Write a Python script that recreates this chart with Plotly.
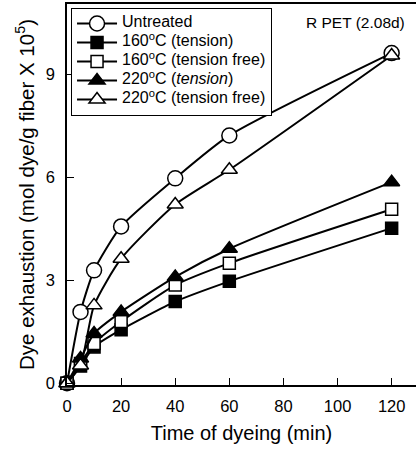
import plotly.graph_objects as go

time_min = [0, 5, 10, 20, 40, 60, 120]
untreated = [0, 2.08, 3.29, 4.57, 5.97, 7.22, 9.62]
t160_tension = [0, 0.5, 1.06, 1.56, 2.38, 2.97, 4.52]
t160_free = [0, 0.58, 1.16, 1.8, 2.86, 3.5, 5.07]
t220_tension = [0, 0.72, 1.45, 2.08, 3.1, 3.92, 5.86]
t220_free = [0, 0.52, 2.27, 3.63, 5.21, 6.22, 9.55]

FONT = "Liberation Sans, Arial, sans-serif"


def lg(s):
    return '<span style="font-size:16px">' + s + '</span>'


series = [
    (lg("Untreated"), untreated, "circle", "white", 15),
    (lg("160<sup>o</sup>C (tension)"), t160_tension, "square", "black", 12),
    (lg("160<sup>o</sup>C (tension free)"), t160_free, "square", "white", 12),
    (lg("220<sup>o</sup>C (<i>tension</i>)"), t220_tension, "triangle-up", "black", 14),
    (lg("220<sup>o</sup>C (tension free)"), t220_free, "triangle-up", "white", 14),
]

fig = go.Figure()
for name, vals, sym, fill, size in series:
    fig.add_trace(go.Scatter(
        x=time_min, y=vals, name=name, mode="lines+markers",
        line=dict(color="black", width=2, shape="spline", smoothing=0.6),
        marker=dict(symbol=sym, size=size, color=fill, line=dict(color="black", width=1.5)),
        cliponaxis=False,
    ))

fig.update_layout(
    width=416, height=449,
    margin=dict(l=67, r=0, t=4, b=64),
    paper_bgcolor="white", plot_bgcolor="white",
    font=dict(family=FONT, color="black", size=15),
    showlegend=True,
    legend=dict(
        x=0.011, y=0.99, xanchor="left", yanchor="top",
        bordercolor="black", borderwidth=1.2, bgcolor="white",
        font=dict(size=10, family=FONT), itemwidth=40,
        tracegroupgap=0,
    ),
    xaxis=dict(
        range=[0, 129], tickvals=[0, 20, 40, 60, 80, 100, 120],
        ticks="inside", ticklen=7, tickwidth=1.2, tickcolor="black",
        showline=True, linecolor="black", linewidth=1.5, mirror=True,
        showgrid=False, zeroline=False, automargin=False,
        tickfont=dict(size=16.5), ticklabelstandoff=5,
        title=dict(text="Time of dyeing (min)", font=dict(size=20), standoff=12),
    ),
    yaxis=dict(
        range=[-0.05, 11.05], tickvals=[0, 3, 6, 9],
        ticks="inside", ticklen=7, tickwidth=1.2, tickcolor="black",
        showline=True, linecolor="black", linewidth=1.5,
        showgrid=False, zeroline=False, automargin=False,
        tickfont=dict(size=16.5), ticklabelstandoff=7,
        title=dict(text="Dye exhaustion (mol dye/g fiber X 10<sup>5</sup>)", font=dict(size=20.5), standoff=6),
    ),
    annotations=[dict(
        text="R PET (2.08d)", xref="paper", yref="paper",
        x=(407 - 67) / 349, y=1 - (23 - 4) / 381, xanchor="right", yanchor="middle",
        showarrow=False, font=dict(size=15.5, family=FONT),
    )],
)

fig.write_html("out.html", config={"displayModeBar": False},
               post_script="document.body.style.margin='0';")
